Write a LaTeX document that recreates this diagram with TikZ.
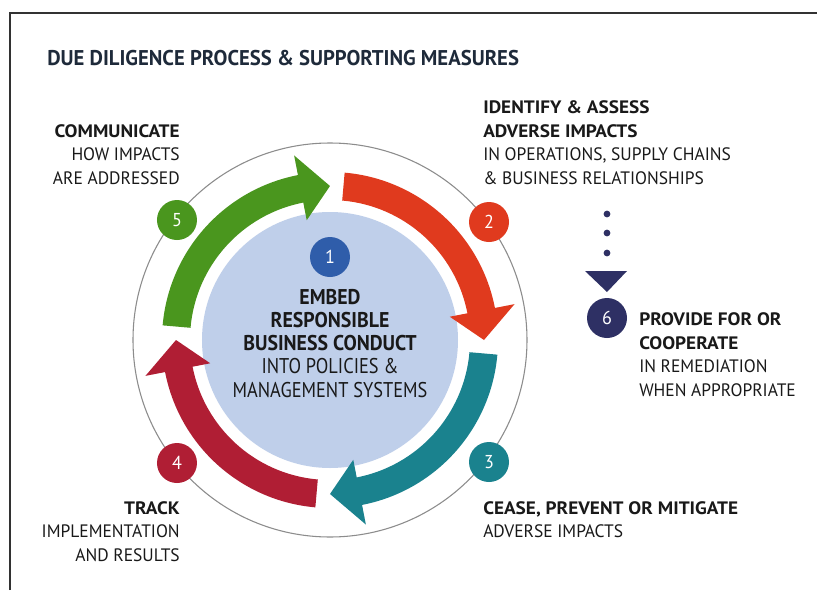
\documentclass[tikz,border=0pt]{standalone}
\usepackage{fontspec}
\setmainfont{PT Sans}[FakeStretch=0.97, BoldFeatures={FakeStretch=1.07}]
\newfontfamily\titlefont{PT Sans}[BoldFeatures={FakeStretch=0.97}]
\newfontfamily\centerfont{PT Sans}[FakeStretch=0.86, BoldFeatures={FakeStretch=0.93}]
\definecolor{cgreen}{RGB}{74,150,30}
\definecolor{cred}{RGB}{224,58,30}
\definecolor{cteal}{RGB}{26,130,142}
\definecolor{ccrimson}{RGB}{176,30,52}
\definecolor{cblue}{RGB}{47,93,170}
\definecolor{clight}{RGB}{191,207,234}
\definecolor{cnavy}{RGB}{46,48,100}
\definecolor{cring}{RGB}{140,140,140}
\definecolor{ctext}{RGB}{25,25,25}
\definecolor{ctitle}{RGB}{30,42,58}
\definecolor{cframe}{RGB}{50,50,50}
\newcommand{\ringarrow}[2]{%
  \fill[#1] (#2:168) arc[start angle=#2, end angle=#2-74, radius=168]
    -- (#2-74:188) -- (#2-85:154) -- (#2-74:122) -- (#2-74:140)
    arc[start angle=#2-74, end angle=#2, radius=140] -- cycle;}
\tikzset{
  numbadge/.style={circle, minimum size=30pt, inner sep=0pt, text=white,
    font=\fontsize{14}{14}\selectfont},
  label/.style={inner sep=0pt, text=ctext, font=\fontsize{13.5}{17.6}\selectfont},
}
\begin{document}
\begin{tikzpicture}[x=0.75pt,y=0.75pt]
\useasboundingbox (-330,-250) rectangle (487,340);
\fill[white] (-330,-250) rectangle (487,340);
% frame
\draw[cframe, line width=1.1pt] (-320,-250) -- (-320,327) -- (487,327);
% title
\node[anchor=base west, inner sep=0pt, text=ctitle, font=\fontsize{16}{20}\titlefont\bfseries] (title) at (-283,274) {DUE DILIGENCE PROCESS \& SUPPORTING MEASURES};
% ring
\draw[cring, line width=0.8pt] (0,0) circle[radius=197];
\fill[clight] (0,0) circle[radius=128];
\ringarrow{cgreen}{175}
\ringarrow{cred}{85}
\ringarrow{cteal}{-5}
\ringarrow{ccrimson}{-95}
% badges
\node[numbadge, fill=cblue] (n1) at (0,83) {1};
\node[numbadge, fill=cred] (n2) at (159,118) {2};
\node[numbadge, fill=cteal] (n3) at (159,-122) {3};
\node[numbadge, fill=ccrimson] (n4) at (-153,-123) {4};
\node[numbadge, fill=cgreen] (n5) at (-153,120) {5};
\node[numbadge, fill=cnavy] (n6) at (277,22) {6};
% dotted pointer to 6
\fill[cnavy] (277,126) circle[radius=3.4] (277,107) circle[radius=3.4] (277,87) circle[radius=3.4];
\coordinate (tipL) at (255,69);
\coordinate (tipR) at (297,69);
\coordinate (tipT) at (277,48);
\fill[cnavy] (tipL) -- (tipR) -- (tipT) -- cycle;
% labels (base anchor = baseline of last line)
\node[label, anchor=base, align=center, font=\fontsize{16}{17.3}\centerfont] (embed) at (0,-57) {\textbf{EMBED}\\\textbf{RESPONSIBLE}\\\textbf{BUSINESS CONDUCT}\\INTO POLICIES \&\\MANAGEMENT SYSTEMS};
\node[label, anchor=base west, align=left] (identify) at (153,156) {\textbf{IDENTIFY \& ASSESS}\\\textbf{ADVERSE IMPACTS}\\IN OPERATIONS, SUPPLY CHAINS\\\& BUSINESS RELATIONSHIPS};
\node[label, anchor=base east, align=right] (communicate) at (-150,156) {\textbf{COMMUNICATE}\\HOW IMPACTS\\ARE ADDRESSED};
\node[label, anchor=base west, align=left] (provide) at (309,-56) {\textbf{PROVIDE FOR OR}\\\textbf{COOPERATE}\\IN REMEDIATION\\WHEN APPROPRIATE};
\node[label, anchor=base east, align=right] (track) at (-150,-221) {\textbf{TRACK}\\IMPLEMENTATION\\AND RESULTS};
\node[label, anchor=base west, align=left] (cease) at (153,-197.5) {\textbf{CEASE, PREVENT OR MITIGATE}\\ADVERSE IMPACTS};
\end{tikzpicture}
\end{document}
